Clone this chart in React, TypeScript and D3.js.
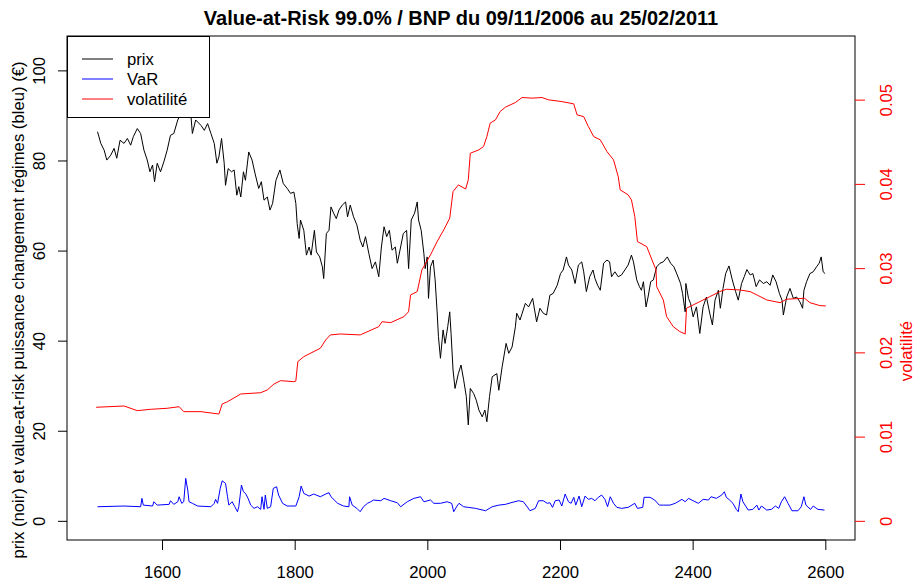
import React, { useEffect, useRef } from 'react';
import * as d3 from 'd3';

const TITLE = 'Value-at-Risk 99.0% / BNP du 09/11/2006 au 25/02/2011';
const LEFT_LABEL = 'prix (noir) et value-at-risk puissance changement régimes (bleu) (€)';
const RIGHT_LABEL = 'volatilité';

const X_TICKS = [1600, 1800, 2000, 2200, 2400, 2600];
const LEFT_TICKS = [0, 20, 40, 60, 80, 100];
const RIGHT_TICKS = [0, 0.01, 0.02, 0.03, 0.04, 0.05];

// data ranges, padded by 4% like R does
const X_RANGE = [1500, 2600];
const LEFT_RANGE = [0, 103.6];
const RIGHT_RANGE = [0, 0.0554];

const LEGEND_ITEMS = [
  { label: 'prix', color: '#000000' },
  { label: 'VaR', color: '#0000ff' },
  { label: 'volatilité', color: '#ff0000' },
];

// [jour, prix en €]
const PRIX: [number, number][] = [
  [1502, 86.5], [1507, 83.9], [1512, 82.4], [1516, 80.2], [1522, 81.3], [1527, 82.8],
  [1531, 80.6], [1536, 84.6], [1542, 83.9], [1547, 85.0], [1552, 83.5], [1556, 85.4],
  [1562, 87.2], [1567, 86.1], [1572, 82.4], [1577, 80.2], [1581, 77.6], [1585, 79.1],
  [1588, 75.4], [1592, 79.5], [1597, 77.6], [1602, 79.8], [1607, 82.4], [1612, 85.7],
  [1617, 86.1], [1623, 89.1], [1629, 91.0], [1635, 91.8], [1640, 90.8], [1643, 89.8],
  [1645, 86.1], [1650, 89.1], [1658, 87.9], [1663, 86.8], [1668, 88.3], [1673, 86.1],
  [1678, 83.9], [1682, 79.5], [1685, 80.9], [1689, 85.0], [1693, 79.5], [1695, 74.6],
  [1699, 78.3], [1704, 77.6], [1708, 78.0], [1712, 72.4], [1715, 74.3], [1718, 72.0],
  [1722, 77.6], [1725, 75.7], [1730, 82.0], [1735, 80.2], [1740, 76.9], [1745, 73.9],
  [1749, 75.4], [1753, 71.3], [1758, 72.0], [1762, 69.1], [1766, 70.6], [1771, 75.7],
  [1777, 78.0], [1782, 75.0], [1788, 73.9], [1793, 72.8], [1798, 73.1], [1801, 70.6],
  [1803, 66.1], [1806, 62.8], [1808, 66.9], [1813, 64.6], [1817, 59.1], [1821, 60.9],
  [1824, 59.1], [1829, 64.6], [1832, 59.8], [1837, 58.7], [1841, 56.5], [1843, 53.9],
  [1847, 63.9], [1851, 64.6], [1854, 69.8], [1858, 68.4], [1862, 67.2], [1866, 69.1],
  [1871, 70.2], [1876, 70.9], [1879, 67.6], [1883, 70.2], [1888, 67.6], [1893, 65.8],
  [1898, 62.4], [1902, 60.9], [1906, 63.2], [1911, 59.5], [1916, 56.1], [1921, 57.6],
  [1926, 54.3], [1930, 60.9], [1934, 65.4], [1938, 63.2], [1942, 64.6], [1946, 60.2],
  [1951, 60.9], [1954, 57.3], [1959, 60.9], [1963, 63.9], [1968, 64.6], [1971, 56.1],
  [1975, 66.9], [1980, 68.4], [1984, 70.9], [1986, 66.9], [1990, 64.6], [1994, 59.5],
  [1996, 56.1], [1999, 58.7], [2001, 49.5], [2004, 56.5], [2008, 58.0], [2011, 53.6],
  [2014, 46.5], [2016, 41.0], [2019, 36.2], [2023, 42.5], [2026, 39.5], [2030, 43.2],
  [2033, 46.5], [2035, 41.7], [2038, 33.6], [2041, 29.5], [2046, 32.8], [2050, 34.7],
  [2054, 31.4], [2058, 27.7], [2061, 21.4], [2064, 29.5], [2069, 28.4], [2073, 26.9],
  [2077, 24.7], [2082, 23.2], [2086, 24.7], [2089, 22.1], [2093, 27.7], [2097, 32.1],
  [2104, 32.8], [2107, 29.1], [2112, 34.3], [2118, 39.5], [2122, 37.3], [2127, 38.7],
  [2132, 43.2], [2134, 46.2], [2139, 44.7], [2147, 48.4], [2152, 47.6], [2158, 49.5],
  [2164, 44.3], [2169, 47.3], [2174, 46.2], [2179, 45.8], [2184, 50.2], [2189, 50.6],
  [2195, 52.4], [2200, 55.0], [2204, 55.8], [2209, 58.7], [2212, 56.9], [2217, 55.8],
  [2222, 52.8], [2227, 56.9], [2232, 57.6], [2235, 55.4], [2239, 51.0], [2244, 54.3],
  [2249, 55.8], [2252, 53.9], [2256, 52.4], [2260, 51.3], [2265, 57.3], [2270, 58.0],
  [2274, 57.6], [2277, 54.3], [2282, 55.4], [2287, 54.3], [2292, 54.7], [2297, 55.8],
  [2302, 56.9], [2307, 59.1], [2310, 57.6], [2315, 53.6], [2319, 52.1], [2322, 51.3],
  [2325, 53.2], [2329, 47.6], [2332, 49.8], [2336, 53.2], [2340, 53.6], [2345, 56.5],
  [2350, 57.3], [2355, 57.6], [2361, 58.7], [2366, 57.3], [2371, 56.5], [2376, 54.7],
  [2381, 52.8], [2384, 50.6], [2388, 46.5], [2389, 52.8], [2393, 49.5], [2396, 48.4],
  [2400, 45.4], [2405, 47.6], [2410, 41.7], [2415, 47.6], [2420, 49.8], [2425, 46.2],
  [2429, 43.6], [2433, 49.1], [2438, 51.3], [2441, 47.3], [2445, 51.7], [2449, 55.0],
  [2454, 56.7], [2459, 53.6], [2464, 51.0], [2468, 49.1], [2473, 52.8], [2477, 54.3],
  [2481, 55.9], [2486, 54.7], [2490, 55.0], [2495, 52.1], [2500, 53.6], [2506, 52.8],
  [2511, 53.2], [2516, 52.4], [2520, 54.7], [2525, 53.2], [2530, 50.6], [2534, 49.1],
  [2536, 45.8], [2541, 49.8], [2546, 51.7], [2551, 49.5], [2556, 49.8], [2561, 48.7],
  [2565, 47.3], [2567, 51.3], [2571, 53.2], [2576, 55.0], [2581, 55.4], [2586, 56.5],
  [2590, 57.3], [2593, 58.7], [2596, 55.4], [2599, 55.0],
];

// [jour, VaR en €]
const VAR: [number, number][] = [
  [1502, 3.24], [1542, 3.4], [1567, 3.24], [1569, 5.1], [1571, 3.6], [1585, 3.4],
  [1587, 4.35], [1592, 3.6], [1610, 3.77], [1612, 4.57], [1617, 3.77], [1623, 4.35],
  [1625, 5.46], [1629, 4.0], [1632, 4.35], [1635, 9.54], [1638, 6.95], [1640, 4.35],
  [1645, 4.0], [1653, 3.4], [1673, 3.24], [1678, 4.0], [1680, 4.88], [1683, 4.0],
  [1687, 7.32], [1690, 9.0], [1695, 8.43], [1698, 5.46], [1700, 3.6], [1705, 4.35],
  [1709, 3.24], [1713, 2.13], [1715, 3.24], [1719, 8.06], [1722, 6.57], [1725, 6.21],
  [1729, 5.1], [1733, 3.6], [1738, 2.88], [1743, 3.24], [1748, 2.66], [1750, 5.46],
  [1753, 2.66], [1755, 5.84], [1758, 2.88], [1763, 3.24], [1767, 7.32], [1772, 7.68],
  [1775, 5.84], [1781, 4.0], [1788, 3.4], [1801, 3.4], [1806, 5.46], [1809, 7.83],
  [1813, 6.21], [1821, 5.61], [1828, 6.06], [1838, 5.46], [1846, 6.06], [1851, 6.35],
  [1854, 5.46], [1859, 4.73], [1864, 4.0], [1873, 3.4], [1881, 3.24], [1882, 5.46],
  [1886, 3.6], [1893, 2.88], [1898, 2.13], [1903, 3.24], [1909, 4.0], [1914, 4.35],
  [1918, 4.73], [1929, 4.57], [1934, 5.1], [1944, 4.57], [1954, 4.13], [1959, 3.24],
  [1969, 4.35], [1979, 5.1], [1989, 5.46], [1994, 4.35], [2004, 4.73], [2009, 4.0],
  [2019, 4.0], [2029, 4.35], [2036, 4.0], [2039, 2.13], [2044, 3.4], [2047, 4.0],
  [2054, 3.24], [2061, 3.1], [2072, 2.88], [2087, 2.35], [2097, 3.24], [2107, 3.6],
  [2117, 3.77], [2127, 4.2], [2137, 4.57], [2144, 4.35], [2149, 3.4], [2154, 2.35],
  [2162, 2.88], [2167, 4.57], [2174, 4.57], [2180, 4.0], [2184, 4.13], [2188, 3.1],
  [2192, 4.57], [2198, 4.73], [2202, 3.4], [2207, 6.06], [2212, 4.35], [2216, 4.0],
  [2220, 5.33], [2223, 3.6], [2228, 5.61], [2232, 3.24], [2237, 5.61], [2242, 4.88],
  [2247, 5.1], [2252, 4.57], [2257, 5.33], [2262, 5.84], [2267, 4.88], [2271, 3.24],
  [2275, 5.46], [2280, 4.0], [2285, 3.1], [2292, 2.88], [2302, 3.1], [2312, 4.0],
  [2316, 2.88], [2324, 3.1], [2326, 5.33], [2335, 5.33], [2342, 4.73], [2349, 3.6],
  [2355, 3.6], [2365, 3.6], [2373, 4.0], [2383, 4.88], [2388, 4.35], [2393, 5.1],
  [2400, 4.57], [2408, 4.0], [2415, 4.88], [2423, 4.73], [2427, 5.46], [2435, 5.1],
  [2443, 5.84], [2447, 6.57], [2450, 5.33], [2455, 4.73], [2460, 4.0], [2465, 2.66],
  [2468, 2.13], [2472, 6.06], [2475, 4.35], [2483, 2.5], [2490, 2.66], [2496, 3.6],
  [2499, 2.5], [2503, 3.4], [2511, 2.5], [2518, 2.66], [2524, 3.4], [2529, 2.88],
  [2533, 4.35], [2538, 5.46], [2543, 4.0], [2549, 2.35], [2558, 2.35], [2563, 3.24],
  [2567, 5.46], [2570, 3.6], [2577, 2.66], [2581, 3.4], [2588, 2.66], [2598, 2.5],
];

// [jour, volatilité]
const VOLATILITE: [number, number][] = [
  [1500, 0.01354], [1542, 0.01369], [1562, 0.01314], [1582, 0.0133], [1607, 0.01342],
  [1625, 0.01361], [1632, 0.01302], [1658, 0.01302], [1685, 0.01274], [1690, 0.01393],
  [1698, 0.0142], [1718, 0.01512], [1748, 0.01527], [1758, 0.0156], [1768, 0.0163],
  [1778, 0.0167], [1798, 0.01658], [1801, 0.01666], [1804, 0.01896], [1813, 0.01955],
  [1838, 0.02055], [1846, 0.02153], [1853, 0.02213], [1868, 0.02224], [1898, 0.02213],
  [1926, 0.02311], [1931, 0.0237], [1944, 0.02359], [1964, 0.0243], [1971, 0.02489],
  [1974, 0.02688], [1984, 0.02727], [1991, 0.02985], [2004, 0.03163], [2014, 0.03321],
  [2024, 0.0346], [2033, 0.03599], [2038, 0.03915], [2046, 0.03994], [2057, 0.03945],
  [2061, 0.04054], [2064, 0.0437], [2077, 0.0441], [2084, 0.04449], [2089, 0.04568],
  [2094, 0.04727], [2102, 0.04766], [2109, 0.04865], [2117, 0.04917], [2132, 0.04972],
  [2142, 0.05031], [2157, 0.05024], [2172, 0.05031], [2182, 0.05004], [2202, 0.04983],
  [2220, 0.04956], [2225, 0.04825], [2235, 0.04805], [2242, 0.04687], [2250, 0.04568],
  [2260, 0.04529], [2270, 0.0439], [2280, 0.04291], [2287, 0.04093], [2290, 0.03935],
  [2302, 0.03876], [2307, 0.03816], [2312, 0.03618], [2316, 0.03321], [2330, 0.03261],
  [2338, 0.03103], [2344, 0.02985], [2345, 0.02786], [2355, 0.02628], [2360, 0.0243],
  [2370, 0.02311], [2380, 0.02252], [2388, 0.02224], [2390, 0.0253], [2400, 0.02569],
  [2410, 0.02608], [2425, 0.02667], [2440, 0.02727], [2450, 0.02755], [2470, 0.02747],
  [2486, 0.02727], [2496, 0.02688], [2511, 0.02628], [2531, 0.02596], [2541, 0.02637],
  [2568, 0.02648], [2576, 0.02596], [2591, 0.02561], [2600, 0.02557],
];

const FONT = "'Liberation Sans', Arial, sans-serif";

function pad4(r: number[]) {
  const d = (r[1] - r[0]) * 0.04;
  return [r[0] - d, r[1] + d];
}

export default function App() {
  const ref = useRef<SVGSVGElement | null>(null);

  useEffect(() => {
    const W = 915;
    const H = 583;
    const margin = { left: 67, right: 60, top: 36, bottom: 43 };
    const x0 = margin.left;
    const x1 = W - margin.right;
    const y0 = margin.top;
    const y1 = H - margin.bottom;

    const svg = d3.select(ref.current);
    svg.selectAll('*').remove();

    const x = d3.scaleLinear().domain(pad4(X_RANGE)).range([x0, x1]);
    const yL = d3.scaleLinear().domain(pad4(LEFT_RANGE)).range([y1, y0]);
    const yR = d3.scaleLinear().domain(pad4(RIGHT_RANGE)).range([y1, y0]);

    svg.append('rect').attr('width', W).attr('height', H).attr('fill', '#ffffff');

    const lineL = d3.line<[number, number]>().x((d) => x(d[0])).y((d) => yL(d[1]));
    const lineR = d3.line<[number, number]>().x((d) => x(d[0])).y((d) => yR(d[1]));

    svg.append('path').attr('d', lineL(PRIX)).attr('fill', 'none').attr('stroke', '#000').attr('stroke-width', 1);
    svg.append('path').attr('d', lineL(VAR)).attr('fill', 'none').attr('stroke', '#0000ff').attr('stroke-width', 1);
    svg.append('path').attr('d', lineR(VOLATILITE)).attr('fill', 'none').attr('stroke', '#ff0000').attr('stroke-width', 1);

    // legend (white box over the lines)
    const lg = svg.append('g').attr('transform', `translate(${x0},${y0})`);
    lg.append('rect').attr('x', 0.5).attr('y', 0.5).attr('width', 142).attr('height', 81)
      .attr('fill', '#fff').attr('stroke', '#000').attr('stroke-width', 1);
    LEGEND_ITEMS.forEach((item, i) => {
      const ly = 23 + i * 20;
      lg.append('line').attr('x1', 15).attr('x2', 46).attr('y1', ly).attr('y2', ly)
        .attr('stroke', item.color).attr('stroke-width', 1);
      lg.append('text').attr('x', 60).attr('y', ly).attr('dy', '0.35em')
        .attr('font-family', FONT).attr('font-size', '16.7px').attr('fill', '#000')
        .text(item.label);
    });

    // box
    svg.append('rect').attr('x', x0).attr('y', y0).attr('width', x1 - x0).attr('height', y1 - y0)
      .attr('fill', 'none').attr('stroke', '#000').attr('stroke-width', 1);

    // bottom axis
    const gx = svg.append('g');
    X_TICKS.forEach((t) => {
      gx.append('line').attr('x1', x(t)).attr('x2', x(t)).attr('y1', y1).attr('y2', y1 + 10).attr('stroke', '#000');
      gx.append('text').attr('x', x(t)).attr('y', 578).attr('text-anchor', 'middle')
        .attr('font-family', FONT).attr('font-size', '16.7px').attr('fill', '#000').text(t);
    });
    gx.append('line').attr('x1', x(X_TICKS[0])).attr('x2', x(X_TICKS[X_TICKS.length - 1]))
      .attr('y1', y1).attr('y2', y1).attr('stroke', '#000');

    // left axis
    const gl = svg.append('g');
    LEFT_TICKS.forEach((t) => {
      gl.append('line').attr('x1', x0 - 9).attr('x2', x0).attr('y1', yL(t)).attr('y2', yL(t)).attr('stroke', '#000');
      gl.append('text').attr('transform', `translate(45,${yL(t)}) rotate(-90)`).attr('text-anchor', 'middle')
        .attr('font-family', FONT).attr('font-size', '16.7px').attr('fill', '#000').text(t);
    });

    // right axis (red)
    const gr = svg.append('g');
    RIGHT_TICKS.forEach((t) => {
      gr.append('line').attr('x1', x1).attr('x2', x1 + 10).attr('y1', yR(t)).attr('y2', yR(t)).attr('stroke', '#ff0000');
      gr.append('text').attr('transform', `translate(891.5,${yR(t)}) rotate(-90)`).attr('text-anchor', 'middle')
        .attr('font-family', FONT).attr('font-size', '16.7px').attr('fill', '#ff0000').text(t);
    });

    // titles
    svg.append('text').attr('x', (x0 + x1) / 2).attr('y', 24.5).attr('text-anchor', 'middle')
      .attr('font-family', FONT).attr('font-size', '20px').attr('font-weight', 'bold').attr('fill', '#000')
      .text(TITLE);
    svg.append('text').attr('transform', 'translate(24,310) rotate(-90)').attr('text-anchor', 'middle')
      .attr('font-family', FONT).attr('font-size', '16.7px').attr('fill', '#000').text(LEFT_LABEL);
    svg.append('text').attr('transform', 'translate(912,351) rotate(-90)').attr('text-anchor', 'middle')
      .attr('font-family', FONT).attr('font-size', '16.7px').attr('fill', '#ff0000').text(RIGHT_LABEL);
  }, []);

  return (
    <svg
      ref={ref}
      width={915}
      height={583}
      style={{ position: 'absolute', left: 0, top: 0, display: 'block' }}
    />
  );
}
